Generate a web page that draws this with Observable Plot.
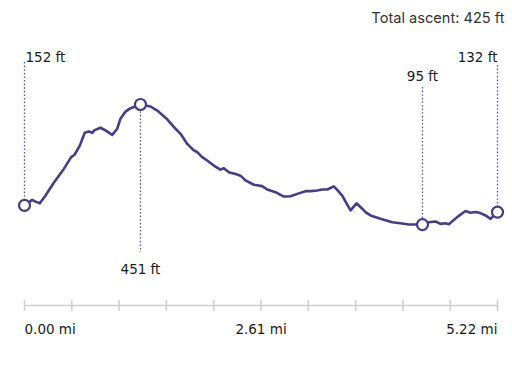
<!DOCTYPE html>
<html>
<head>
<meta charset="utf-8">
<script src="https://cdn.jsdelivr.net/npm/d3@7"></script>
<script src="https://cdn.jsdelivr.net/npm/@observablehq/plot@0.6"></script>
<style>
  body { margin: 0; background: #fff; }
  #chart svg { display: block; }
</style>
</head>
<body>
<div id="chart"></div>
<script>
// distance along the route (mi)
const distanceMi = [0, 0.085, 0.121, 0.169, 0.232, 0.323, 0.434, 0.515, 0.552, 0.610, 0.665, 0.710, 0.747, 0.773, 0.839, 0.894, 0.968, 1.023, 1.059, 1.115, 1.170, 1.280, 1.391, 1.465, 1.575, 1.667, 1.722, 1.796, 1.868, 1.906, 1.961, 2.016, 2.089, 2.163, 2.200, 2.255, 2.329, 2.384, 2.439, 2.531, 2.623, 2.678, 2.770, 2.862, 2.936, 3.010, 3.101, 3.156, 3.230, 3.285, 3.341, 3.413, 3.451, 3.506, 3.598, 3.664, 3.727, 3.763, 3.818, 3.929, 4.058, 4.150, 4.241, 4.334, 4.392, 4.462, 4.536, 4.591, 4.646, 4.683, 4.775, 4.867, 4.922, 4.977, 5.032, 5.088, 5.143, 5.220];
// elevation (ft)
const elevationFt = [152, 168, 163, 158, 181, 219, 260, 295, 302, 329, 367, 371, 367, 375, 382, 374, 361, 379, 409, 430, 440, 451, 445, 433, 407, 379, 364, 334, 315, 310, 295, 285, 270, 258, 262, 250, 245, 240, 226, 213, 209, 199, 191, 178, 179, 186, 194, 194, 196, 199, 199, 208, 198, 181, 137, 158, 142, 132, 122, 112, 102, 99, 95, 95, 95, 102, 104, 97, 99, 96, 117, 135, 130, 132, 129, 122, 112, 132];

// highlighted points
const markerMi = [0, 1.280, 4.392, 5.22];
const markerFt = [152, 451, 95, 132];
const markerLabels = ["152 ft", "451 ft", "95 ft", "132 ft"];

// x-axis ticks and labels
const tickMi = [0, 0.522, 1.044, 1.566, 2.088, 2.61, 3.132, 3.654, 4.176, 4.698, 5.22];
const tickLabelMi = [0, 2.61, 5.22];
const tickLabels = ["0.00 mi", "2.61 mi", "5.22 mi"];

const title = "Total ascent: 425 ft";

const profile = distanceMi.map((d, i) => ({mi: d, ft: elevationFt[i]}));
const markers = markerMi.map((d, i) => ({mi: d, ft: markerFt[i], label: markerLabels[i]}));
const labelTicks = tickLabelMi.map((d, i) => ({mi: d, label: tickLabels[i]}));

const lineColor = "#463c88";
const ruleColor = "#5f5896";
const labelFont = "'DejaVu Sans', sans-serif";

// per-annotation label layout
const layout = [
  {where: "top", dy: 37, inset: 42, anchor: "start", dx: 1},
  {where: "bottom", dy: -36, inset: 53, anchor: "middle", dx: 0},
  {where: "top", dy: 56, inset: 67, anchor: "middle", dx: 0},
  {where: "top", dy: 37, inset: 45, anchor: "end", dx: 0}
];

const yMin = -145, yMax = 700;

const annotationMarks = markers.flatMap((m, i) => {
  const L = layout[i];
  const rule = L.where === "top"
    ? Plot.ruleX([m], {x: "mi", y1: null, y2: "ft", insetTop: L.inset, stroke: ruleColor, strokeWidth: 1.3, strokeDasharray: "1.6,2"})
    : Plot.ruleX([m], {x: "mi", y1: "ft", y2: null, insetBottom: L.inset, stroke: ruleColor, strokeWidth: 1.3, strokeDasharray: "1.6,2"});
  const text = Plot.text([m], {
    x: "mi", text: "label", frameAnchor: L.where, lineAnchor: "middle",
    textAnchor: L.anchor, dy: L.dy, dx: L.dx,
    fontSize: 13.5, fontFamily: labelFont, fill: "#1a1a1a"
  });
  return [rule, text];
});

const chart = Plot.plot({
  width: 512,
  height: 367,
  marginLeft: 24,
  marginRight: 15,
  marginTop: 20,
  marginBottom: 62,
  x: {domain: [0, 5.22], axis: null},
  y: {domain: [yMin, yMax], axis: null},
  marks: [
    // baseline axis
    Plot.ruleY([yMin], {stroke: "#cfcfcf", strokeWidth: 1.5}),
    Plot.ruleX(tickMi, {x: d => d, insetTop: 280, insetBottom: -6, stroke: "#cfcfcf", strokeWidth: 1.5}),
    ...annotationMarks,
    Plot.line(profile, {x: "mi", y: "ft", stroke: lineColor, strokeWidth: 2.6, strokeLinejoin: "round", curve: "linear"}),
    Plot.dot(markers, {x: "mi", y: "ft", r: 5.5, fill: "white", stroke: lineColor, strokeWidth: 2.2}),
    Plot.text(labelTicks.slice(0, 1), {x: "mi", text: "label", frameAnchor: "bottom", lineAnchor: "middle", textAnchor: "start", dy: 24, fontSize: 13.5, fontFamily: labelFont, fill: "#1a1a1a"}),
    Plot.text(labelTicks.slice(1, 2), {x: "mi", text: "label", frameAnchor: "bottom", lineAnchor: "middle", textAnchor: "middle", dy: 24, fontSize: 13.5, fontFamily: labelFont, fill: "#1a1a1a"}),
    Plot.text(labelTicks.slice(2, 3), {x: "mi", text: "label", frameAnchor: "bottom", lineAnchor: "middle", textAnchor: "end", dy: 24, fontSize: 13.5, fontFamily: labelFont, fill: "#1a1a1a"}),
    Plot.text([title], {frameAnchor: "top-right", textAnchor: "end", lineAnchor: "middle", dx: 7, dy: -2, fontSize: 14.6, fontFamily: "Inter, sans-serif", fill: "#333"})
  ]
});
document.getElementById("chart").appendChild(chart);
</script>
</body>
</html>
